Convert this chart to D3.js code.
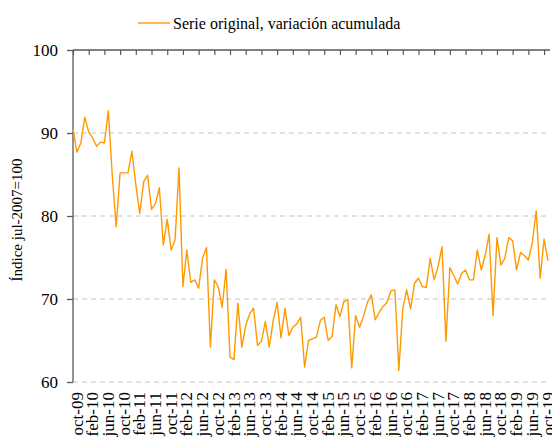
<!DOCTYPE html>
<html><head><meta charset="utf-8">
<script src="https://cdn.jsdelivr.net/npm/d3@7"></script>
<style>body{margin:0;background:#fff}svg{display:block}</style>
</head><body><svg id="c" width="552" height="446" font-family="'Liberation Serif', 'Times New Roman', 'DejaVu Serif', serif"></svg>
<script>
const FONT = "'Liberation Serif', 'Times New Roman', 'DejaVu Serif', serif";
const monthNames = ["ene","feb","mar","abr","may","jun","jul","ago","sep","oct","nov","dic"];
const values = [90.5,87.7,88.8,91.9,90.1,89.4,88.4,88.9,88.8,92.7,
84.9,78.7,85.2,85.2,85.2,87.8,83.8,80.3,84.1,84.9,
80.8,81.5,83.4,76.5,79.6,75.9,77.1,85.8,71.5,75.9,
72.0,72.3,71.3,74.9,76.2,64.2,72.3,71.5,69.0,73.6,
63.0,62.7,69.5,64.2,66.8,68.2,68.9,64.4,64.9,67.3,
64.2,67.4,69.6,65.3,68.9,65.6,66.6,67.0,67.8,61.8,
65.0,65.2,65.4,67.4,67.8,65.0,65.5,69.3,67.9,69.7,
69.9,61.7,68.0,66.6,67.9,69.6,70.5,67.5,68.4,69.1,
69.6,71.0,71.1,61.4,68.8,71.1,68.8,71.9,72.5,71.5,
71.4,74.9,72.3,73.9,76.3,64.9,73.8,72.8,71.8,73.1,
73.5,72.3,72.3,75.9,73.5,75.3,77.8,68.0,77.4,74.1,
74.9,77.4,77.0,73.5,75.6,75.2,74.7,76.8,80.6,72.5,
77.2,74.6];
// categories: one per month, starting oct-2009
const categories = values.map((v,i)=>{const m=(9+i)%12, y=2009+Math.floor((9+i)/12);return monthNames[m]+"-"+String(y%100).padStart(2,"0");});
const tickLabels = ["oct-09","feb-10","jun-10","oct-10","feb-11","jun-11","oct-11","feb-12","jun-12","oct-12","feb-13","jun-13","oct-13","feb-14","jun-14","oct-14","feb-15","jun-15","oct-15","feb-16","jun-16","oct-16","feb-17","jun-17","oct-17","feb-18","jun-18","oct-18","feb-19","jun-19","oct-19"];
const yTicks = [60,70,80,90,100];
const seriesName = "Serie original, variación acumulada";
const yTitle = "Índice jul-2007=100";

const svg = d3.select("#c");
const L=73, R=548, T=50, B=382;
const x = d3.scalePoint(categories,[L,R]);
const y = d3.scaleLinear([60,100],[B,T]);

// gridlines
svg.append("g").selectAll("line").data(yTicks.filter(d=>d<100)).join("line")
  .attr("x1",L).attr("x2",550).attr("y1",d=>y(d)).attr("y2",d=>y(d))
  .attr("stroke","#d9d9d9").attr("stroke-width",1.3).attr("stroke-dasharray","5,4");

// left axis
const ya = svg.append("g").attr("transform",`translate(${L},0)`)
  .call(d3.axisLeft(y).tickValues(yTicks).tickSize(6).tickFormat(d3.format("d")));
ya.attr("font-family",FONT).attr("font-size",17);
ya.select(".domain").attr("stroke","#595959").attr("stroke-width",1.3).attr("d",`M0,${T}V${B}`);
ya.selectAll(".tick line").attr("stroke","#595959").attr("stroke-width",1.3);
ya.selectAll(".tick text").attr("x",-15).attr("fill","#000");

// top axis line with ticks pointing down
const xa = svg.append("g").attr("transform",`translate(0,${T})`)
  .call(d3.axisBottom(x).tickValues(tickLabels).tickSize(5).tickFormat(""));
xa.select(".domain").attr("stroke","#595959").attr("stroke-width",1.3).attr("d",`M${L},0H550`);
xa.selectAll(".tick line").attr("stroke","#595959").attr("stroke-width",1.2);

// bottom labels
svg.append("g").attr("font-family",FONT).attr("font-size",17).selectAll("text").data(tickLabels).join("text")
  .attr("transform",d=>`translate(${x(d)+4},${B+10}) rotate(-90)`)
  .attr("text-anchor","end").attr("dominant-baseline","central")
  .text(d=>d);

// line
svg.append("path").datum(values)
  .attr("fill","none").attr("stroke","#FF9900").attr("stroke-width",1.4).attr("stroke-linejoin","round")
  .attr("d",d3.line().x((d,i)=>x(categories[i])).y(d=>y(d)));

// y title
svg.append("text").attr("transform","translate(17,220) rotate(-90)")
  .attr("font-family",FONT).attr("text-anchor","middle").attr("dominant-baseline","central").attr("font-size",15).text(yTitle);

// legend
svg.append("line").attr("x1",138).attr("x2",170).attr("y1",23).attr("y2",23)
  .attr("stroke","#FF9900").attr("stroke-width",1.4);
svg.append("text").attr("x",173).attr("y",23).attr("dominant-baseline","central")
  .attr("font-family",FONT).attr("font-size",16).text(seriesName);
</script></body></html>
